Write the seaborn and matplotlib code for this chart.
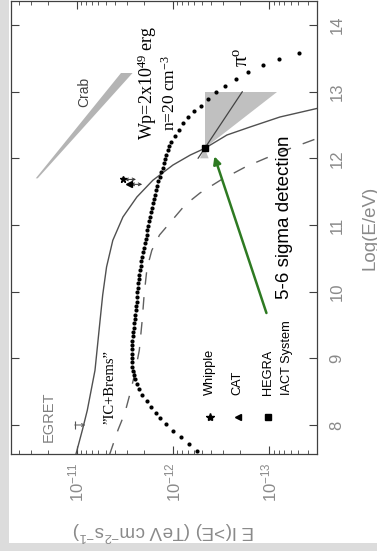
import numpy as np
import matplotlib
matplotlib.use("Agg")
import matplotlib.pyplot as plt
import seaborn as sns
from matplotlib.patches import Rectangle
from matplotlib.ticker import LogFormatterSciNotation, FixedLocator, NullFormatter

# ---------------- data (log10 E [eV], log10 E*I(>E) [TeV cm^-2 s^-1]) ----------------
ic_logE = [7.55, 7.93, 8.22, 8.82, 9.53, 9.95, 10.37, 10.77, 11.12, 11.42, 11.67,
           11.90, 12.05, 12.15, 12.35, 12.47, 12.62, 12.75]
ic_logF = [-10.99, -11.06, -11.11, -11.19, -11.24, -11.27, -11.31, -11.375, -11.48,
           -11.625, -11.79, -12.00, -12.18, -12.33, -12.56, -12.80, -13.11, -13.50]

brems_logE = [7.55, 7.93, 8.18, 8.45, 8.75, 9.12, 9.57, 9.95, 10.35, 10.62, 10.85,
              11.07, 11.30, 11.48, 11.67, 11.87, 12.00, 12.15, 12.30]
brems_logF = [-11.34, -11.43, -11.50, -11.55, -11.60, -11.65, -11.68, -11.70, -11.73,
              -11.78, -11.86, -11.99, -12.125, -12.28, -12.49, -12.75, -12.96, -13.22, -13.50]

pi0_logE = [7.615, 7.715, 7.82, 7.91, 8.015, 8.10, 8.185, 8.275, 8.365, 8.455, 8.54, 8.615,
            8.685, 8.75, 8.81,
            8.874, 8.94, 9.005, 9.07, 9.135, 9.20, 9.265, 9.33, 9.395, 9.46, 9.525, 9.59,
            9.655, 9.72, 9.785, 9.85,
            9.92, 9.99, 10.057, 10.124, 10.19, 10.257, 10.324, 10.39, 10.457, 10.523, 10.59,
            10.657, 10.723, 10.79, 10.857, 10.924, 10.99, 11.057, 11.123, 11.19, 11.257,
            11.324, 11.39, 11.457, 11.523, 11.59, 11.657, 11.723, 11.79, 11.857, 11.923,
            11.99, 12.057, 12.123, 12.185,
            12.247, 12.333, 12.423, 12.523, 12.613, 12.708, 12.787, 12.888, 12.988, 13.087,
            13.187, 13.288, 13.397, 13.487, 13.582]
pi0_logF = [-12.247, -12.167, -12.08, -12.003, -11.927, -11.865, -11.82, -11.768, -11.726,
            -11.68, -11.646, -11.622, -11.604, -11.594, -11.586,
            -11.57, -11.57, -11.57, -11.57, -11.57, -11.572, -11.575, -11.58, -11.585, -11.59,
            -11.60, -11.605, -11.61, -11.615, -11.62, -11.625,
            -11.627, -11.63, -11.635, -11.639, -11.645, -11.65, -11.656, -11.663, -11.67,
            -11.68, -11.69, -11.70, -11.708, -11.716, -11.725, -11.733, -11.742, -11.751,
            -11.76, -11.77, -11.779, -11.788, -11.798, -11.81, -11.823, -11.834, -11.847,
            -11.863, -11.877, -11.891, -11.906, -11.922, -11.932, -11.943, -11.96,
            -11.984, -12.019, -12.06, -12.106, -12.158, -12.221, -12.286, -12.359, -12.443,
            -12.54, -12.654, -12.783, -12.932, -13.096, -13.304]

# HEGRA spectrum band (bow tie) and best fit
hegra_up_logE = [12.15, 13.0, 13.0]
hegra_up_logF = [-12.33, -12.33, -13.08]
hegra_lo_logE = [12.15, 12.0, 12.0]
hegra_lo_logF = [-12.33, -12.28, -12.37]
hegra_fit_logE = [12.0, 13.0]
hegra_fit_logF = [-12.26, -12.72]
hegra_pt = (12.15, -12.33)

# Crab band
crab_logE = [11.70, 13.28, 13.28, 11.70]
crab_logF = [-10.575, -11.46, -11.58, -10.595]

whipple_pt = (11.684, -11.476)
cat_pt = (11.61, -11.54)
egret_pt = (8.0, -10.98)

arrow_tail = (9.68, -12.97)
arrow_head = (12.03, -12.43)

logE_ticks = [8, 9, 10, 11, 12, 13, 14]
flux_ticks = [1e-11, 1e-12, 1e-13]
flux_minor = [m * 10.0 ** e for e in (-11, -12, -13, -14) for m in range(2, 10)]

legend_labels = ["Whipple", "CAT", "HEGRA", "IACT System"]
legend_logF = [-12.385, -12.672, -12.984, -13.1875]
legend_marker_logE = 8.12
legend_text_logE = 8.45

# ---------------- figure ----------------
sns.set_theme(style="ticks")
plt.rcParams["font.family"] = ["Liberation Sans", "DejaVu Sans"]
plt.rcParams["mathtext.default"] = "regular"

W, H = 377, 551
fig = plt.figure(figsize=(W / 100, H / 100), dpi=100)
fig.patch.set_facecolor("white")
ax = fig.add_axes([11 / W, (H - 454) / H, 306 / W, 453 / H])
ax.set_facecolor("white")

fig.add_artist(Rectangle((0, 0), 9 / W, 1, transform=fig.transFigure,
                         facecolor="#dcdcdc", edgecolor="none", zorder=-5))
fig.add_artist(Rectangle((0, 0), 1, 8 / H, transform=fig.transFigure,
                         facecolor="#dcdcdc", edgecolor="none", zorder=-5))

ax.set_xscale("log")
ax.set_xlim(10 ** -10.318, 10 ** -13.495)
ax.set_ylim(7.565, 14.36)

def F(a):
    return 10 ** np.asarray(a, dtype=float)

# bands
ax.fill(F(crab_logF), crab_logE, color="#b4b4b4", lw=0, zorder=1)
ax.fill(F(hegra_up_logF), hegra_up_logE, color="#c0c0c0", lw=0, zorder=1)
ax.fill(F(hegra_lo_logF), hegra_lo_logE, color="#c0c0c0", lw=0, zorder=1)
sns.lineplot(x=F(hegra_fit_logF), y=hegra_fit_logE, sort=False, estimator=None,
             color="#444444", lw=0.9, ax=ax, zorder=3)

# model curves
sns.lineplot(x=F(ic_logF), y=ic_logE, sort=False, estimator=None,
             color="#505050", lw=1.0, ax=ax, zorder=2)
sns.lineplot(x=F(brems_logF), y=brems_logE, sort=False, estimator=None,
             color="#606060", lw=1.0, linestyle=(0, (9, 9)), ax=ax, zorder=2)
sns.scatterplot(x=F(pi0_logF), y=pi0_logE, color="black", s=9, linewidth=0,
                ax=ax, zorder=4)

# data points
ax.plot(F([hegra_pt[1]]), [hegra_pt[0]], marker="s", ms=5, color="black", zorder=5)
ax.plot(F([whipple_pt[1]]), [whipple_pt[0]], marker="*", ms=5, color="black", zorder=5)
ax.plot(F([cat_pt[1]]), [cat_pt[0]], marker="<", ms=4, color="black", zorder=5)
for pt in (whipple_pt, cat_pt):
    ax.annotate("", xy=(F(pt[1] - 0.14), pt[0]), xytext=(F(pt[1] - 0.02), pt[0]),
                arrowprops=dict(arrowstyle="<->", color="#333333", lw=0.7,
                                mutation_scale=5, shrinkA=0, shrinkB=0))

# EGRET upper limit
ax.plot(F([egret_pt[1]]), [egret_pt[0]], marker="|", ms=6, mew=0.8, color="#555555")
ax.annotate("", xy=(F(egret_pt[1] - 0.11), egret_pt[0]), xytext=(F(egret_pt[1]), egret_pt[0]),
            arrowprops=dict(arrowstyle="->", color="#555555", lw=0.7,
                            mutation_scale=5, shrinkA=0, shrinkB=0))

# green arrow
ax.annotate("", xy=(F(arrow_head[1]), arrow_head[0]),
            xytext=(F(arrow_tail[1]), arrow_tail[0]),
            arrowprops=dict(arrowstyle="-|>", color="#2e7a22", lw=1.8,
                            mutation_scale=11, shrinkA=0, shrinkB=0), zorder=6)

# legend (drawn manually, as in the original)
for m, lf in zip(["*", "<", "s"], legend_logF[:3]):
    ax.plot(F([lf]), [legend_marker_logE], marker=m, ms=5 if m != "*" else 6,
            color="black", ls="none")
for lab, lf in zip(legend_labels, legend_logF):
    ax.text(F(lf), legend_text_logE, lab, rotation=90, ha="center", va="bottom",
            fontsize=9.2, color="black")

# annotations
serif = ["Liberation Serif", "DejaVu Serif"]
ax.text(F(-11.73), 13.14, "Wp=2x10$^{49}$ erg", rotation=90, ha="center", va="center",
        fontsize=13, family=serif, color="black")
ax.text(F(-11.97), 12.98, "n=20 cm$^{-3}$", rotation=90, ha="center", va="center",
        fontsize=12.5, family=serif, color="black")
ax.text(F(-12.72), 13.52, "π$^{o}$", rotation=90, ha="center", va="center",
        fontsize=15, family=serif, color="black")
ax.text(F(-11.08), 12.99, "Crab", rotation=90, ha="center", va="center",
        fontsize=10, color="#444444")
ax.text(F(-10.71), 8.12, "EGRET", rotation=90, ha="center", va="center",
        fontsize=10.5, color="#808080")
ax.text(F(-11.34), 8.57, "\u201dIC+Brems\u201d", rotation=90, ha="center", va="center",
        fontsize=10.5, family=serif, color="black")
ax.text(F(-13.16), 11.12, "5-6 sigma detection", rotation=90, ha="center", va="center",
        fontsize=13.5, color="black")

# axes styling
for s in ax.spines.values():
    s.set_color("#404040")
    s.set_linewidth(0.9)

ax.xaxis.set_major_locator(FixedLocator(flux_ticks))
ax.xaxis.set_minor_locator(FixedLocator(flux_minor))
ax.xaxis.set_major_formatter(LogFormatterSciNotation())
ax.xaxis.set_minor_formatter(NullFormatter())
ax.tick_params(axis="x", which="both", direction="in", top=True, bottom=True,
               color="#404040", labelcolor="#8a8a8a", labelsize=12, labelrotation=90)
ax.tick_params(axis="x", which="major", length=6, width=0.8, pad=6)
ax.tick_params(axis="x", which="minor", length=3, width=0.6)

ax.yaxis.set_major_locator(FixedLocator(logE_ticks))
ax.yaxis.set_minor_locator(FixedLocator([]))
ax.yaxis.set_label_position("right")
ax.tick_params(axis="y", which="both", direction="in", left=True, right=True,
               labelleft=False, labelright=True, color="#404040", labelcolor="#8a8a8a",
               labelsize=12, labelrotation=90, length=6, width=0.8, pad=9)
for lbl in ax.get_yticklabels():
    lbl.set_va("center")

ax.set_ylabel("Log(E/eV)", fontsize=13.5, color="#8a8a8a", rotation=90)
ax.yaxis.set_label_coords(1.173, 0.5)
ax.yaxis.label.set_va("center")
ax.yaxis.label.set_ha("center")

ax.set_xlabel("E I(>E) (TeV cm$^{-2}$s$^{-1}$)", fontsize=13.5, color="#8a8a8a", rotation=180)
ax.xaxis.set_label_coords(0.5, -0.17)
ax.xaxis.label.set_va("center")

fig.savefig("out.png", dpi=100, facecolor=fig.get_facecolor())
